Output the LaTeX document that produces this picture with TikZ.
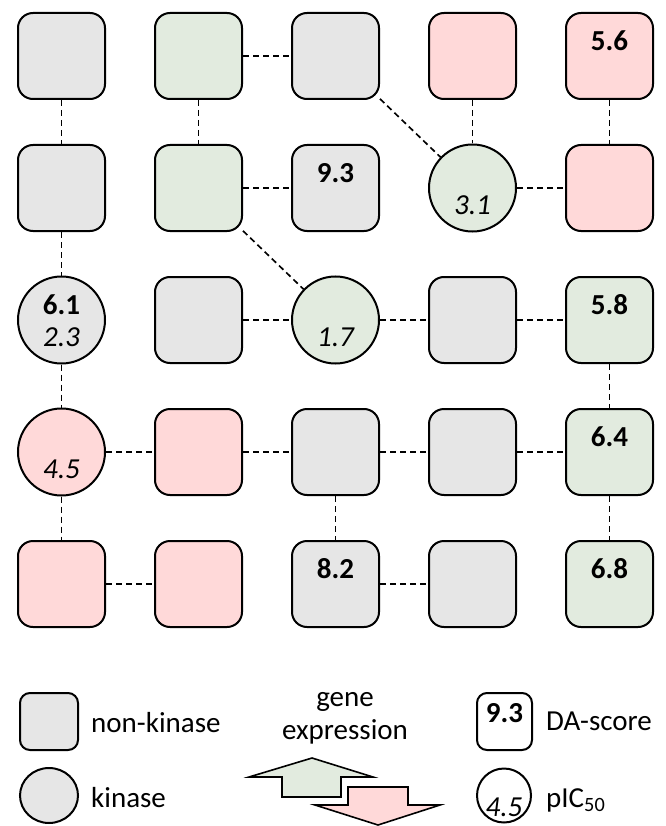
\documentclass[tikz,border=0pt]{standalone}
\usepackage{fontspec}
\setmainfont{Carlito}
\usepackage{tikz}
\usetikzlibrary{shapes.geometric}% ellipse for the legend
\definecolor{nkgrey}{HTML}{E6E6E6}
\definecolor{upgreen}{HTML}{E2EBDF}
\definecolor{downpink}{HTML}{FFD9D9}
\tikzset{every node/.style={font=\fontsize{29}{33}\selectfont}}
\tikzset{
  nonkin/.style={draw, line width=2pt, rounded corners=15pt, minimum width=87pt, minimum height=86pt, inner sep=0pt},
  kin/.style={draw, line width=2pt, circle, minimum size=87pt, inner sep=0pt},
  pathway/.style={line width=1.7pt, dash pattern=on 6pt off 4pt},
  dascore/.style={font=\fontsize{29}{33}\selectfont\bfseries, inner sep=0pt},
  ictext/.style={font=\fontsize{29}{33}\selectfont\itshape, inner sep=0pt},
  legtext/.style={anchor=base west, inner sep=0pt}
}

\begin{document}
\begin{tikzpicture}[x=1pt, y=-1pt]
  \useasboundingbox (0,0) rectangle (665,826);
  % network
  \foreach \r/\c/\s/\f in {1/1/nonkin/nkgrey, 1/2/nonkin/upgreen, 1/3/nonkin/nkgrey, 1/4/nonkin/downpink, 1/5/nonkin/downpink,
      2/1/nonkin/nkgrey, 2/2/nonkin/upgreen, 2/3/nonkin/nkgrey, 2/4/kin/upgreen, 2/5/nonkin/downpink,
      3/1/kin/nkgrey, 3/2/nonkin/nkgrey, 3/3/kin/upgreen, 3/4/nonkin/nkgrey, 3/5/nonkin/upgreen,
      4/1/kin/downpink, 4/2/nonkin/downpink, 4/3/nonkin/nkgrey, 4/4/nonkin/nkgrey, 4/5/nonkin/upgreen,
      5/1/nonkin/downpink, 5/2/nonkin/downpink, 5/3/nonkin/nkgrey, 5/4/nonkin/nkgrey, 5/5/nonkin/upgreen}
    \node[\s, fill=\f] (n\r\c) at ({61.5+137*(\c-1)}, {56+132*(\r-1)}) {};
  \foreach \n/\val in {n15/5.6, n23/9.3, n31/6.1, n35/5.8, n45/6.4, n53/8.2, n55/6.8}
    \node[dascore] (\n-da) at ([yshift=15pt]\n.center) {\val};
  \foreach \n/\val in {n24/3.1, n31/2.3, n33/1.7, n41/4.5}
    \node[ictext] (\n-ic) at ([yshift=-17pt]\n.center) {\val};
  \foreach \a/\b in {n11/n21, n12/n22, n12/n13, n13/n24, n14/n24, n15/n25,
      n22/n23, n22/n33, n24/n25, n21/n31,
      n32/n33, n33/n34, n34/n35, n31/n41, n35/n45,
      n41/n42, n42/n43, n43/n44, n44/n45,
      n41/n51, n43/n53, n45/n55, n51/n52, n53/n54}
    \draw[pathway] (\a) -- (\b);
  % legend
  \node[nonkin, fill=nkgrey, minimum width=58pt, minimum height=57pt, rounded corners=10pt] (lnon) at (49,721.5) {};
  \node[draw, line width=2pt, ellipse, fill=nkgrey, minimum width=58pt, minimum height=55pt, inner sep=0pt] (lkin) at (49,795.5) {};
  \node[legtext] (lnontxt) at (91,732) {non-kinase};
  \node[legtext] (lkintxt) at (91,807) {kinase};
  \node[anchor=base, inner sep=0pt] (lgene) at (345,706) {gene};
  \node[anchor=base, inner sep=0pt] (lexpr) at (345,739) {expression};
  \draw[line width=1.6pt, fill=upgreen] (312,758) -- (373,777) -- (341,777) -- (341,797) -- (282,797) -- (282,777) -- (249,777) -- cycle;
  \draw[line width=1.6pt, fill=downpink] (348,787) -- (408,787) -- (408,805) -- (440,805) -- (378,825) -- (315,805) -- (348,805) -- cycle;
  \node[nonkin, fill=white, minimum width=55pt, minimum height=57pt, rounded corners=10pt] (lda) at (504.5,721.5) {};
  \node[dascore] (lda-val) at ([yshift=8.5pt]lda.center) {9.3};
  \node[kin, fill=white, minimum size=54pt] (lic) at (504,795.5) {};
  \node[ictext] (lic-val) at ([yshift=-11.5pt]lic.center) {4.5};
  \node[legtext] (ldatxt) at (546,730) {DA-score};
  \node[legtext] (lictxt) at (546,807) {pIC\textsubscript{50}};
\end{tikzpicture}
\end{document}
